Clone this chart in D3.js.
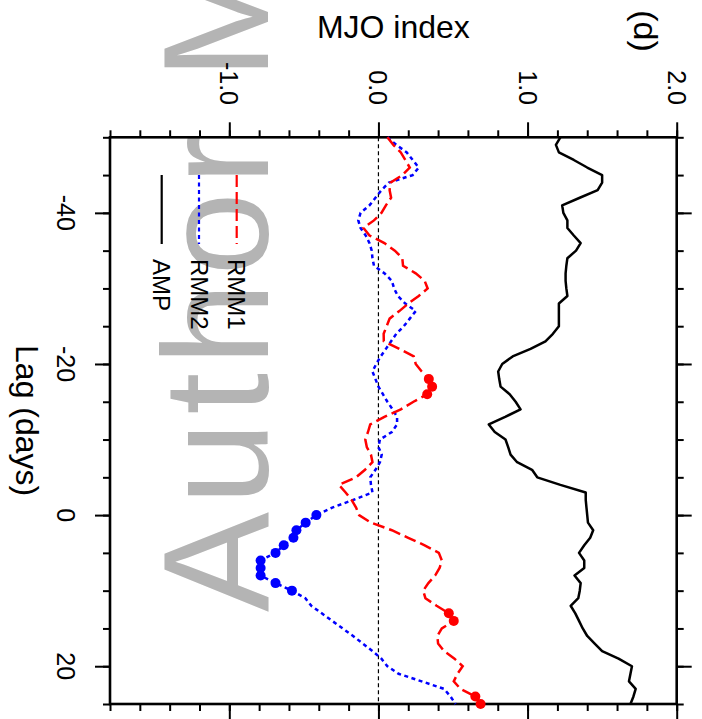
<!DOCTYPE html>
<html>
<head>
<meta charset="utf-8">
<script src="https://cdn.jsdelivr.net/npm/d3@7"></script>
<style>
  html, body { margin: 0; padding: 0; background: #fff; }
  svg { display: block; }
  text { font-family: "Liberation Sans", Arial, Helvetica, sans-serif; }
</style>
</head>
<body>
<svg id="chart" width="702" height="719"></svg>
<script>
// ---------------- data ----------------
const lags = [-50,-49,-48,-47,-46,-45,-44,-43,-42,-41,
              -40,-39,-38,-37,-36,-35,-34,-33,-32,-31,
              -30,-29,-28,-27,-26,-25,-24,-23,-22,-21,
              -20,-19,-18,-17,-16,-15,-14,-13,-12,-11,
              -10,-9,-8,-7,-6,-5,-4,-3,-2,-1,
              0,1,2,3,4,5,6,7,8,9,
              10,11,12,13,14,15,16,17,18,19,
              20,21,22,23,24,25];

const rmm1 = [0.06,0.10,0.15,0.18,0.21,0.16,0.08,0.075,0.085,0.05,
              0.02,-0.03,-0.10,-0.06,0.04,0.11,0.16,0.165,0.25,0.31,
              0.33,0.27,0.20,0.14,0.075,0.055,0.035,0.036,0.14,0.237,
              0.25,0.29,0.338,0.36,0.327,0.235,0.15,0.04,-0.055,-0.07,
              -0.088,-0.078,-0.05,-0.04,-0.09,-0.15,-0.265,-0.22,-0.18,-0.15,
              -0.13,-0.05,0.09,0.20,0.31,0.405,0.425,0.41,0.38,0.335,
              0.30,0.315,0.39,0.472,0.505,0.425,0.395,0.40,0.44,0.51,
              0.565,0.53,0.505,0.55,0.65,0.685];

const rmm2 = [0.06,0.12,0.19,0.23,0.27,0.23,0.07,0.02,-0.02,-0.06,
              -0.12,-0.135,-0.12,-0.085,-0.06,-0.045,-0.04,-0.03,0.04,0.09,
              0.105,0.13,0.18,0.25,0.21,0.17,0.12,0.085,0.05,0.015,
              -0.015,-0.04,-0.02,0.0,0.03,0.06,0.095,0.125,0.125,0.09,
              0.01,0.0,0.022,0.01,-0.02,-0.055,-0.05,-0.04,-0.17,-0.31,
              -0.416,-0.488,-0.55,-0.57,-0.635,-0.69,-0.79,-0.79,-0.79,-0.69,
              -0.58,-0.49,-0.45,-0.38,-0.31,-0.24,-0.17,-0.105,-0.04,0.02,
              0.06,0.135,0.29,0.44,0.483,0.517];

const amp = [1.22,1.19,1.21,1.31,1.40,1.50,1.50,1.47,1.35,1.232,
             1.24,1.267,1.267,1.31,1.356,1.325,1.267,1.26,1.255,1.255,
             1.26,1.267,1.21,1.21,1.21,1.21,1.17,1.12,1.02,0.90,
             0.83,0.803,0.81,0.819,0.88,0.92,0.953,0.85,0.74,0.78,
             0.852,0.87,0.886,0.93,1.03,1.065,1.22,1.39,1.39,1.395,
             1.40,1.405,1.44,1.42,1.38,1.345,1.38,1.38,1.315,1.356,
             1.35,1.34,1.289,1.32,1.345,1.37,1.40,1.45,1.50,1.61,
             1.70,1.69,1.68,1.725,1.71,1.69];

// lags where the series is marked with a dot (significant)
const rmm1Sig = [-18,-17,-16,13,14,24,25];
const rmm2Sig = [0,1,2,3,4,5,6,7,8,9,10];

const indexMajorTicks = [-1.0, 0.0, 1.0, 2.0];
const indexTickLabels = ["-1.0", "0.0", "1.0", "2.0"];
const lagMajorTicks = [-40, -20, 0, 20];
const lagTickLabels = ["-40", "-20", "0", "20"];

const seriesNames = ["RMM1", "RMM2", "AMP"];

// ---------------- layout ----------------
const svg = d3.select("#chart");
const pL = 110, pR = 676.7, pT = 137.3, pB = 704;

// MJO index runs horizontally, lag runs vertically (figure rotated)
const x = d3.scaleLinear().domain([-1.8, 2.0]).range([pL, pR]);
const y = d3.scaleLinear().domain([-50, 25]).range([pT, pB]);

// watermark
svg.append("text")
  .attr("transform", "translate(268,612) rotate(-90)")
  .attr("font-size", 150)
  .attr("letter-spacing", 7)
  .attr("fill", "#b4b4b4")
  .text("Author Manuscript");

// zero reference line
svg.append("line")
  .attr("x1", x(0)).attr("x2", x(0))
  .attr("y1", pT).attr("y2", pB)
  .attr("stroke", "#000").attr("stroke-width", 1.2)
  .attr("stroke-dasharray", "4,3");

// axes (ticks only)
function styleAxis(g) {
  g.select(".domain").remove();
  g.selectAll("line").attr("stroke", "#000").attr("stroke-width", 2);
  g.selectAll("text").remove();
}
const xMinor = x.ticks(19);
const yMinor = y.ticks(15);
svg.append("g").attr("transform", `translate(0,${pT})`)
  .call(d3.axisTop(x).tickValues(xMinor).tickSize(7).tickFormat("")).call(styleAxis);
svg.append("g").attr("transform", `translate(0,${pT})`)
  .call(d3.axisTop(x).tickValues(indexMajorTicks).tickSize(15).tickFormat("")).call(styleAxis);
svg.append("g").attr("transform", `translate(0,${pB})`)
  .call(d3.axisBottom(x).tickValues(xMinor).tickSize(7).tickFormat("")).call(styleAxis);
svg.append("g").attr("transform", `translate(0,${pB})`)
  .call(d3.axisBottom(x).tickValues(indexMajorTicks).tickSize(15).tickFormat("")).call(styleAxis);
svg.append("g").attr("transform", `translate(${pL},0)`)
  .call(d3.axisLeft(y).tickValues(yMinor).tickSize(7).tickFormat("")).call(styleAxis);
svg.append("g").attr("transform", `translate(${pL},0)`)
  .call(d3.axisLeft(y).tickValues(lagMajorTicks).tickSize(15).tickFormat("")).call(styleAxis);
svg.append("g").attr("transform", `translate(${pR},0)`)
  .call(d3.axisRight(y).tickValues(yMinor).tickSize(7).tickFormat("")).call(styleAxis);
svg.append("g").attr("transform", `translate(${pR},0)`)
  .call(d3.axisRight(y).tickValues(lagMajorTicks).tickSize(15).tickFormat("")).call(styleAxis);

// frame
svg.append("rect")
  .attr("x", pL).attr("y", pT)
  .attr("width", pR - pL).attr("height", pB - pT)
  .attr("fill", "none").attr("stroke", "#000").attr("stroke-width", 2.6);

// curves
const line = vals => d3.line()
  .x((d, i) => x(vals[i]))
  .y((d, i) => y(lags[i]))(lags);

svg.append("path").attr("d", line(amp))
  .attr("fill", "none").attr("stroke", "#000").attr("stroke-width", 2.5)
  .attr("stroke-linejoin", "round");
svg.append("path").attr("d", line(rmm2))
  .attr("fill", "none").attr("stroke", "#0000ff").attr("stroke-width", 2.5)
  .attr("stroke-dasharray", "4,3.5");
svg.append("path").attr("d", line(rmm1))
  .attr("fill", "none").attr("stroke", "#ff0000").attr("stroke-width", 2.5)
  .attr("stroke-dasharray", "12,5");

// significance dots
svg.append("g").selectAll("circle").data(rmm2Sig).join("circle")
  .attr("cx", d => x(rmm2[lags.indexOf(d)]))
  .attr("cy", d => y(d))
  .attr("r", 5).attr("fill", "#0000ff");
svg.append("g").selectAll("circle").data(rmm1Sig).join("circle")
  .attr("cx", d => x(rmm1[lags.indexOf(d)]))
  .attr("cy", d => y(d))
  .attr("r", 5).attr("fill", "#ff0000");

// tick labels: MJO index (top)
indexMajorTicks.forEach((v, i) => {
  svg.append("text")
    .attr("transform", `translate(${x(v) - 9},105) rotate(90)`)
    .attr("text-anchor", "end")
    .attr("font-size", 25)
    .text(indexTickLabels[i]);
});
// tick labels: lag (left)
lagMajorTicks.forEach((v, i) => {
  svg.append("text")
    .attr("transform", `translate(57,${y(v)}) rotate(90)`)
    .attr("text-anchor", "middle")
    .attr("font-size", 25)
    .text(lagTickLabels[i]);
});

// axis titles
svg.append("text")
  .attr("x", (pL + pR) / 2).attr("y", 38)
  .attr("text-anchor", "middle")
  .attr("font-size", 32)
  .text("MJO index");
svg.append("text")
  .attr("transform", `translate(16,${(pT + pB) / 2}) rotate(90)`)
  .attr("text-anchor", "middle")
  .attr("font-size", 32)
  .text("Lag (days)");
svg.append("text")
  .attr("transform", "translate(634,31) rotate(90)")
  .attr("text-anchor", "middle")
  .attr("font-size", 34)
  .text("(d)");

// legend
const legendX = [236.7, 199, 161.7];
const legendStyle = [
  { color: "#ff0000", dash: "12,5" },
  { color: "#0000ff", dash: "4,3.5" },
  { color: "#000000", dash: null }
];
seriesNames.forEach((name, i) => {
  svg.append("line")
    .attr("x1", legendX[i]).attr("x2", legendX[i])
    .attr("y1", 175).attr("y2", 244)
    .attr("stroke", legendStyle[i].color).attr("stroke-width", 2.2)
    .attr("stroke-dasharray", legendStyle[i].dash);
  svg.append("text")
    .attr("transform", `translate(${legendX[i] - 8.5},259) rotate(90)`)
    .attr("text-anchor", "start")
    .attr("font-size", 24)
    .text(name);
});
</script>
</body>
</html>
